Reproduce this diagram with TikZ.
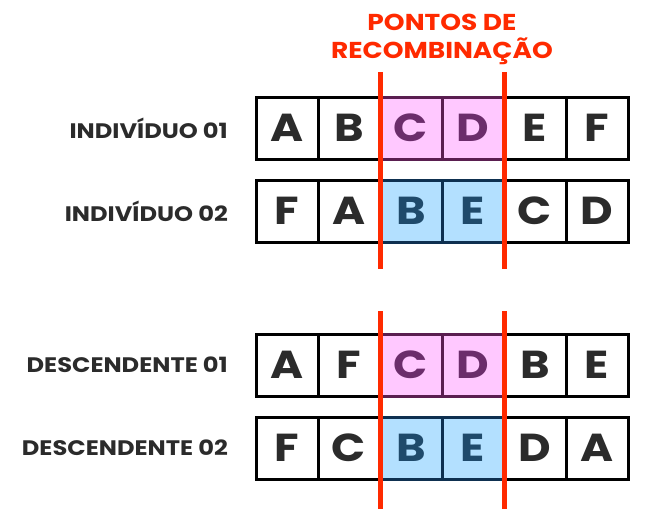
\documentclass[tikz,border=0pt]{standalone}
\usepackage{fontspec}
\usepackage{xcolor}
\setmainfont{Poppins}[FakeStretch=1.15]

\definecolor{cutred}{HTML}{FF2A00}
\definecolor{textgray}{HTML}{2B2B2B}
\definecolor{pinkfill}{HTML}{FFC8FF}
\definecolor{pinkedge}{HTML}{5A1E50}
\definecolor{pinktext}{HTML}{6B2D6B}
\definecolor{bluefill}{HTML}{B3E0FF}
\definecolor{blueedge}{HTML}{0E3050}
\definecolor{bluetext}{HTML}{1F4A6B}

\tikzset{
	cell/.style={draw=black, line width=3pt, minimum width=62pt, minimum height=62pt,
		inner sep=0pt, text=textgray, font=\fontsize{39}{39}\selectfont\bfseries},
	pinkcell/.style={cell, fill=pinkfill, draw=pinkedge, text=pinktext},
	bluecell/.style={cell, fill=bluefill, draw=blueedge, text=bluetext},
	rowname/.style={anchor=east, inner sep=0pt, text=textgray, font=\fontsize{21}{21}\selectfont\bfseries},
	cut/.style={draw=cutred, line width=5pt}
}

\begin{document}
\begin{tikzpicture}[x=1pt, y=-1pt]
	\useasboundingbox (0,0) rectangle (662,520);

	\node[align=center, text=cutred, font=\fontsize{23}{28}\selectfont\bfseries] (titulo) at (442,39) {PONTOS DE\\RECOMBINAÇÃO};

	% pais
	\node[rowname] (ind1) at (228,128) {INDIVÍDUO 01};
	\node[cell] (a1) at (287,128) {A};
	\node[cell] (a2) at (349,128) {B};
	\node[pinkcell] (a3) at (411,128) {C};
	\node[pinkcell] (a4) at (473,128) {D};
	\node[cell] (a5) at (535,128) {E};
	\node[cell] (a6) at (597,128) {F};

	\node[rowname] (ind2) at (228,211) {INDIVÍDUO 02};
	\node[cell] (b1) at (287,211) {F};
	\node[cell] (b2) at (349,211) {A};
	\node[bluecell] (b3) at (411,211) {B};
	\node[bluecell] (b4) at (473,211) {E};
	\node[cell] (b5) at (535,211) {C};
	\node[cell] (b6) at (597,211) {D};

	% filhos
	\node[rowname] (desc1) at (228,365) {DESCENDENTE 01};
	\node[cell] (c1) at (287,365) {A};
	\node[cell] (c2) at (349,365) {F};
	\node[pinkcell] (c3) at (411,365) {C};
	\node[pinkcell] (c4) at (473,365) {D};
	\node[cell] (c5) at (535,365) {B};
	\node[cell] (c6) at (597,365) {E};

	\node[rowname] (desc2) at (228,448) {DESCENDENTE 02};
	\node[cell] (d1) at (287,448) {F};
	\node[cell] (d2) at (349,448) {C};
	\node[bluecell] (d3) at (411,448) {B};
	\node[bluecell] (d4) at (473,448) {E};
	\node[cell] (d5) at (535,448) {D};
	\node[cell] (d6) at (597,448) {A};

	% pontos de corte
	\draw[cut] (380,72) -- (380,269);
	\draw[cut] (504,72) -- (504,269);
	\draw[cut] (380,311) -- (380,509);
	\draw[cut] (504,311) -- (504,509);
\end{tikzpicture}
\end{document}
